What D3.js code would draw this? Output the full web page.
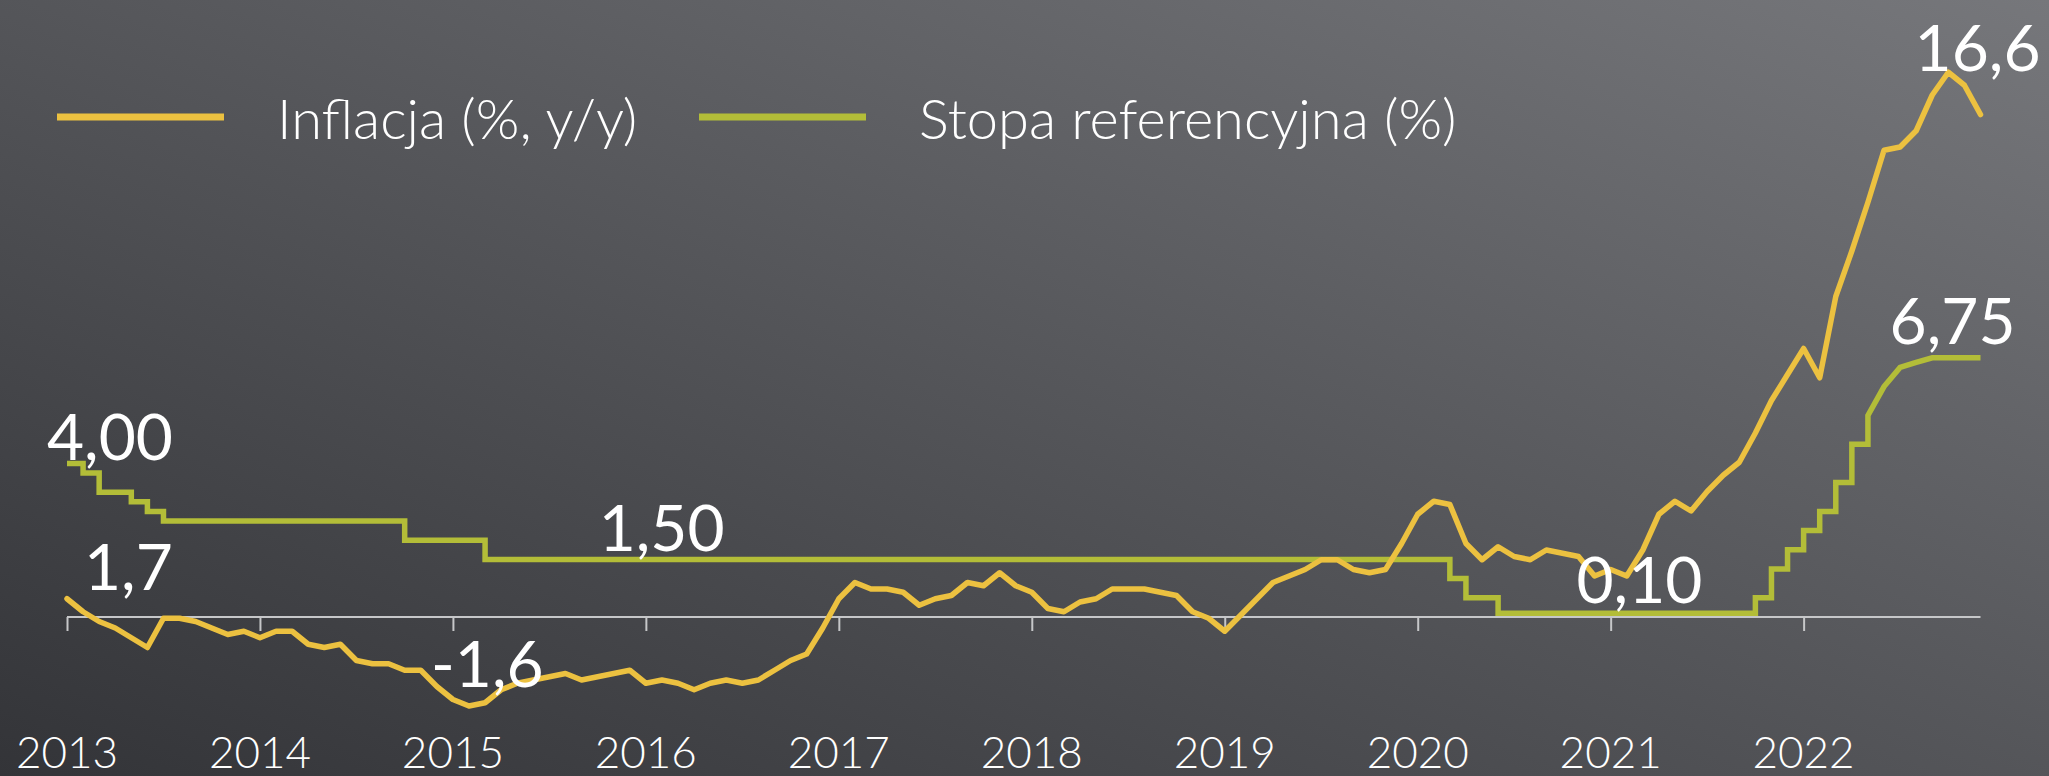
<!DOCTYPE html>
<html>
<head>
<meta charset="utf-8">
<script src="https://cdn.jsdelivr.net/npm/d3@7"></script>
<style>
  html, body { margin: 0; padding: 0; background: #45464a; }
  svg { display: block; }
  text { font-family: Lato, "Open Sans", sans-serif; font-weight: 300; fill: #ffffff; }
</style>
</head>
<body>
<svg id="chart" width="2049" height="776"></svg>
<script>
const width = 2049;
const height = 776;

// year labels (one tick per January)
const years = ["2013", "2014", "2015", "2016", "2017", "2018", "2019", "2020", "2021", "2022"];

// CPI, % y/y, monthly Jan 2013 - Dec 2022
const inflation = [
  1.7, 1.3, 1.0, 0.8, 0.5, 0.2, 1.1, 1.1, 1.0, 0.8, 0.6, 0.7,
  0.5, 0.7, 0.7, 0.3, 0.2, 0.3, -0.2, -0.3, -0.3, -0.5, -0.5, -1.0,
  -1.4, -1.6, -1.5, -1.1, -0.9, -0.8, -0.7, -0.6, -0.8, -0.7, -0.6, -0.5,
  -0.9, -0.8, -0.9, -1.1, -0.9, -0.8, -0.9, -0.8, -0.5, -0.2, 0.0, 0.8,
  1.7, 2.2, 2.0, 2.0, 1.9, 1.5, 1.7, 1.8, 2.2, 2.1, 2.5, 2.1,
  1.9, 1.4, 1.3, 1.6, 1.7, 2.0, 2.0, 2.0, 1.9, 1.8, 1.3, 1.1,
  0.7, 1.2, 1.7, 2.2, 2.4, 2.6, 2.9, 2.9, 2.6, 2.5, 2.6, 3.4,
  4.3, 4.7, 4.6, 3.4, 2.9, 3.3, 3.0, 2.9, 3.2, 3.1, 3.0, 2.4,
  2.6, 2.4, 3.2, 4.3, 4.7, 4.4, 5.0, 5.5, 5.9, 6.8, 7.8, 8.6,
  9.4, 8.5, 11.0, 12.4, 13.9, 15.5, 15.6, 16.1, 17.2, 17.9, 17.5, 16.6
];

// reference rate, %, monthly Jan 2013 - Dec 2022
const refRate = [
  4.00, 3.75, 3.25, 3.25, 3.00, 2.75, 2.50, 2.50, 2.50, 2.50, 2.50, 2.50,
  2.50, 2.50, 2.50, 2.50, 2.50, 2.50, 2.50, 2.50, 2.50, 2.00, 2.00, 2.00,
  2.00, 2.00, 1.50, 1.50, 1.50, 1.50, 1.50, 1.50, 1.50, 1.50, 1.50, 1.50,
  1.50, 1.50, 1.50, 1.50, 1.50, 1.50, 1.50, 1.50, 1.50, 1.50, 1.50, 1.50,
  1.50, 1.50, 1.50, 1.50, 1.50, 1.50, 1.50, 1.50, 1.50, 1.50, 1.50, 1.50,
  1.50, 1.50, 1.50, 1.50, 1.50, 1.50, 1.50, 1.50, 1.50, 1.50, 1.50, 1.50,
  1.50, 1.50, 1.50, 1.50, 1.50, 1.50, 1.50, 1.50, 1.50, 1.50, 1.50, 1.50,
  1.50, 1.50, 1.00, 0.50, 0.50, 0.10, 0.10, 0.10, 0.10, 0.10, 0.10, 0.10,
  0.10, 0.10, 0.10, 0.10, 0.10, 0.10, 0.10, 0.10, 0.10, 0.50, 1.25, 1.75,
  2.25, 2.75, 3.50, 4.50, 5.25, 6.00, 6.50, 6.63, 6.75, 6.75, 6.75, 6.75
];

const series = [
  { name: "Inflacja (%, y/y)", color: "#ecc140" },
  { name: "Stopa referencyjna (%)", color: "#b3bd38" }
];

const svg = d3.select("#chart");

// background
const defs = svg.append("defs");
const grad = defs.append("linearGradient")
  .attr("id", "bg")
  .attr("x1", 0).attr("y1", 1)
  .attr("x2", 1).attr("y2", 0);
grad.append("stop").attr("offset", "0%").attr("stop-color", "#333438");
grad.append("stop").attr("offset", "100%").attr("stop-color", "#76777b");
svg.append("rect")
  .attr("width", width)
  .attr("height", height)
  .attr("fill", "url(#bg)");

const x = d3.scaleLinear().domain([0, 119]).range([67, 1980.5]);
const yRate = d3.scaleLinear().domain([0, 7]).range([617, 348.2]);
const yInf = d3.scaleLinear().domain([-2, 18]).range([719, 69]);

// x axis (rate zero line)
const axis = d3.axisBottom(x)
  .tickValues(d3.range(0, 120, 12))
  .tickSize(14)
  .tickFormat("");
const gx = svg.append("g")
  .attr("transform", `translate(0,${yRate(0)})`)
  .call(axis);
gx.select(".domain")
  .attr("d", `M${x(0)},0H${x(119)}`)
  .attr("stroke", "#c6c7c9")
  .attr("stroke-width", 2);
gx.selectAll(".tick line")
  .attr("stroke", "#c6c7c9")
  .attr("stroke-width", 2);

svg.append("g")
  .selectAll("text")
  .data(years)
  .join("text")
  .attr("x", (d, i) => x(i * 12))
  .attr("y", 768)
  .attr("text-anchor", "middle")
  .attr("font-size", 44)
  .text((d) => d);

// reference rate: steps until May 2022, then straight segments
const stepEnd = 112;
const stepLine = d3.line()
  .x((d, i) => x(i))
  .y((d) => yRate(d))
  .curve(d3.curveStepAfter);
const tailLine = d3.line()
  .x((d, i) => x(i + stepEnd))
  .y((d) => yRate(d));
const ratePath = stepLine(refRate.slice(0, stepEnd + 1)) +
  tailLine(refRate.slice(stepEnd)).replace(/^M/, "L");

svg.append("path")
  .attr("d", ratePath)
  .attr("fill", "none")
  .attr("stroke", series[1].color)
  .attr("stroke-width", 5.5)
  .attr("stroke-linejoin", "miter");

const infLine = d3.line()
  .x((d, i) => x(i))
  .y((d) => yInf(d));
svg.append("path")
  .attr("d", infLine(inflation))
  .attr("fill", "none")
  .attr("stroke", series[0].color)
  .attr("stroke-width", 5.5)
  .attr("stroke-linejoin", "round")
  .attr("stroke-linecap", "round");

// legend
const legend = svg.append("g");
const legendX = [57, 699];
series.forEach((s, i) => {
  legend.append("line")
    .attr("x1", legendX[i]).attr("x2", legendX[i] + 167)
    .attr("y1", 117).attr("y2", 117)
    .attr("stroke", s.color)
    .attr("stroke-width", 7);
  legend.append("text")
    .attr("x", legendX[i] + 220)
    .attr("y", 139)
    .attr("font-size", 56)
    .text(s.name);
});

// value labels
const fmt1 = (v) => d3.format(".1f")(v).replace(".", ",").replace("−", "-");
const fmt2 = (v) => d3.format(".2f")(v).replace(".", ",");
const last = inflation.length - 1;
const minIdx = d3.minIndex(inflation);
const labels = [
  { t: fmt2(refRate[0]), x: x(0) - 20, y: yRate(refRate[0]) - 3, a: "start" },
  { t: fmt1(inflation[0]), x: x(0) + 17, y: yInf(inflation[0]) - 9, a: "start" },
  { t: fmt2(refRate[33]), x: x(33) + 1, y: yRate(refRate[33]) - 8, a: "start" },
  { t: fmt1(inflation[minIdx]), x: x(minIdx) - 38, y: yInf(inflation[minIdx]) - 19, a: "start" },
  { t: fmt2(refRate[94]), x: x(94) - 2, y: yRate(refRate[94]) - 10, a: "start" },
  { t: fmt2(refRate[last]), x: x(last) + 35, y: yRate(refRate[last]) - 14, a: "end" },
  { t: fmt1(inflation[last]), x: x(last) + 60, y: yInf(inflation[last]) - 44, a: "end" }
];
svg.append("g")
  .selectAll("text")
  .data(labels)
  .join("text")
  .attr("x", (d) => d.x)
  .attr("y", (d) => d.y)
  .attr("text-anchor", (d) => d.a)
  .attr("font-size", 64)
  .attr("font-weight", 400)
  .style("font-weight", 400)
  .text((d) => d.t);
</script>
</body>
</html>
